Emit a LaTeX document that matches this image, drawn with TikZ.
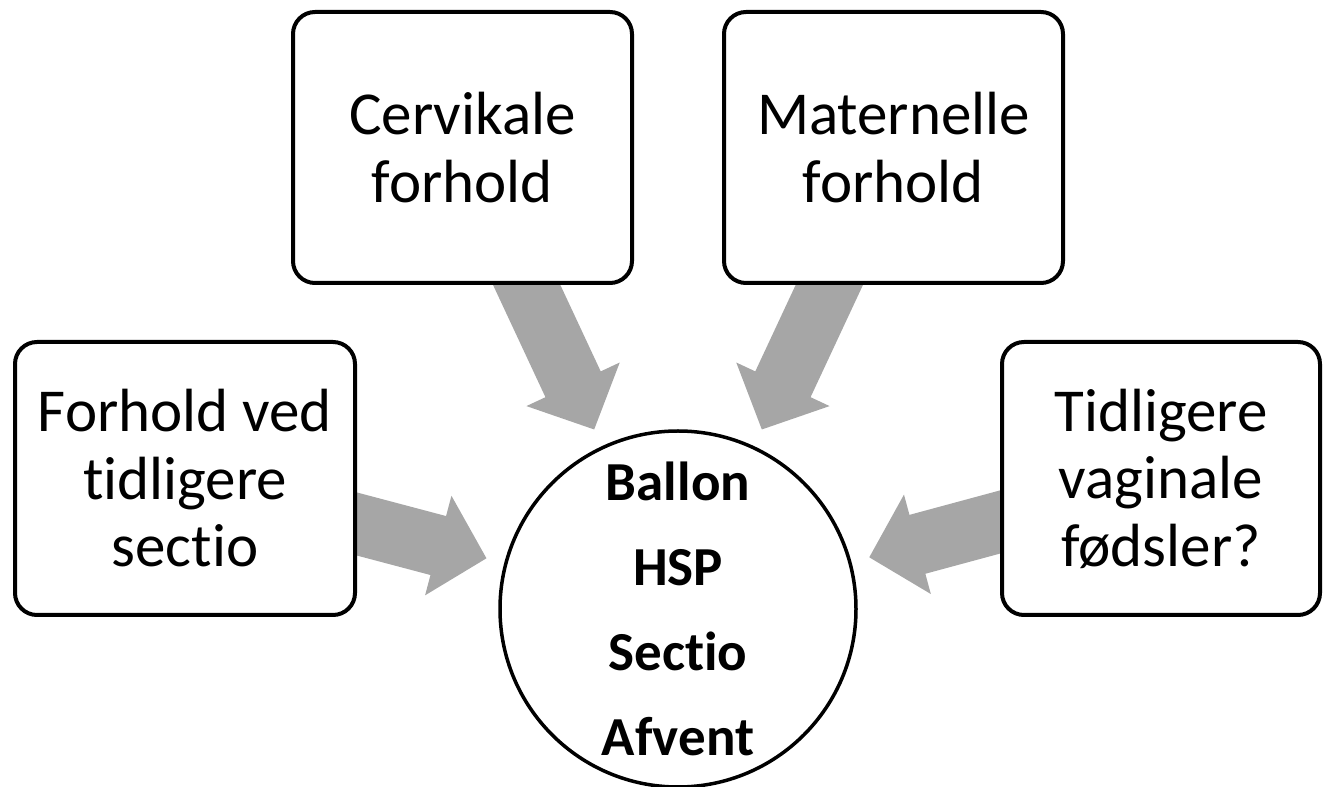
\documentclass[tikz,border=0pt]{standalone}
\usepackage{fontspec}
\setmainfont{Carlito}[Ligatures={NoCommon,NoContextual}]
\usetikzlibrary{arrows.meta,calc,backgrounds}
\definecolor{arrowgray}{HTML}{A6A6A6}
\begin{document}
\begin{tikzpicture}[x=1pt,y=1pt,
  box/.style={draw=black, line width=4pt, rounded corners=22pt, fill=white,
    align=center, inner sep=0pt, font=\fontsize{61}{67.5}\selectfont},
  hub/.style={circle, draw=black, line width=3.5pt, fill=white, align=center,
    inner sep=0pt, minimum size=356pt, font=\fontsize{55}{85}\selectfont\bfseries},
  flow/.style={draw=arrowgray, line width=61pt,
    -{Triangle[length=50pt,width=100pt]}}]
\useasboundingbox (0,0) rectangle (1323,787);
\node[hub] (hub) at (678,178) {Ballon\\HSP\\Sectio\\Afvent};
\node[box, minimum width=339pt, minimum height=271pt] (cerv) at (462.5,639.5) {Cervikale\\forhold};
\node[box, minimum width=339pt, minimum height=271pt] (mat) at (893.5,639.5) {Maternelle\\forhold};
\node[box, minimum width=340pt, minimum height=273pt] (sect) at (185,308.5) {Forhold ved\\tidligere\\sectio};
\node[box, minimum width=318pt, minimum height=273pt] (vag) at (1161,308.5) {Tidligere\\vaginale\\fødsler?};
\begin{scope}[on background layer]
  \coordinate (t1) at ($(hub.center)!198pt!(cerv.center)$);
  \coordinate (t2) at ($(hub.center)!198pt!(mat.center)$);
  \coordinate (t3) at ($(hub.center)!198pt!(sect.center)$);
  \coordinate (t4) at ($(hub.center)!198pt!(vag.center)$);
  \draw[flow] (cerv.center) -- (t1);
  \draw[flow] (mat.center) -- (t2);
  \draw[flow] (sect.center) -- (t3);
  \draw[flow] (vag.center) -- (t4);
\end{scope}
\end{tikzpicture}
\end{document}
